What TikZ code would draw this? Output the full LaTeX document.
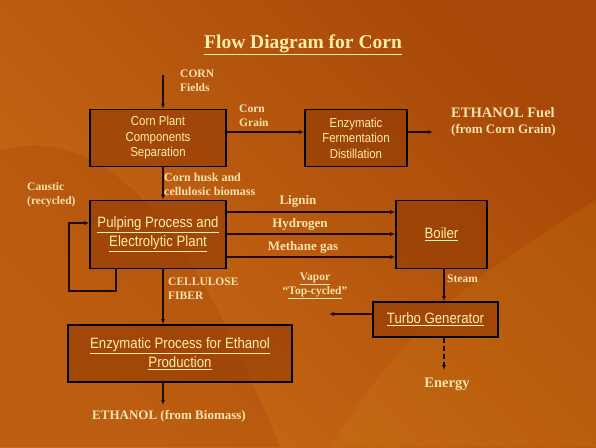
\documentclass[tikz,border=0pt]{standalone}
\usepackage{fontspec}
\setmainfont{Liberation Serif}
\newfontfamily\boxfont[FakeStretch=0.88]{Liberation Sans}
\usetikzlibrary{arrows.meta}
\definecolor{bgA}{RGB}{200,106,22}
\definecolor{bgB}{RGB}{168,72,8}
\definecolor{boxfill}{RGB}{145,58,4}
\definecolor{pale}{RGB}{255,238,170}
\definecolor{lbl}{RGB}{245,228,175}
\definecolor{wire}{RGB}{30,12,0}
\tikzset{
  procbox/.style={draw=black, line width=1.6pt, fill=boxfill, fill opacity=0.6, text opacity=1,
    text=pale, font=\boxfont\fontsize{13}{15.5}\selectfont, align=center, inner sep=0pt},
  bigbox/.style={procbox, font=\boxfont\fontsize{15}{18}\selectfont},
  lab/.style={text=lbl, font=\bfseries\fontsize{11.5}{14}\selectfont, inner sep=0pt},
  midlab/.style={lab, font=\bfseries\fontsize{13}{15}\selectfont},
  arr/.style={draw=wire, line width=1.1pt, -{Latex[length=5pt,width=4pt]}},
}
\begin{document}
\begin{tikzpicture}[x=1pt,y=-1pt]
\shade[left color=bgA, right color=bgB, shading angle=135] (0,0) rectangle (596,447);
\useasboundingbox (0,0) rectangle (596,447);
% faint leaf shapes
\fill[bgB, opacity=0.35] (0,150) .. controls (120,120) and (200,250) .. (280,447) -- (0,447) -- cycle;
\fill[bgA!80!yellow, opacity=0.18] (330,447) .. controls (420,300) and (520,250) .. (596,200) -- (596,447) -- cycle;

% title
\node[text=pale, font=\bfseries\fontsize{19.5}{22}\selectfont, inner sep=0pt] (title) at (303,45) {\underline{Flow Diagram for Corn}};

% boxes
\node[procbox, minimum width=136pt, minimum height=57pt] (b1) at (158,138) {Corn Plant\\Components\\Separation};
\node[procbox, minimum width=102pt, minimum height=57pt] (b2) at (356,138) {Enzymatic\\Fermentation\\Distillation};
\node[bigbox, minimum width=136pt, minimum height=68pt] (b3) at (158,234.5) {\underline{Pulping Process and}\\[1pt]\underline{Electrolytic Plant}};
\node[bigbox, minimum width=91pt, minimum height=68pt] (boil) at (441.5,234.5) {\underline{Boiler}};
\node[bigbox, minimum width=125pt, minimum height=35pt] (turbo) at (435.5,319.5) {\underline{Turbo Generator}};
\node[bigbox, minimum width=224pt, minimum height=57pt] (b4) at (180,353.5) {\underline{Enzymatic Process for Ethanol}\\[1pt]\underline{Production}};

% reference coordinates
\coordinate (cx) at (163,0);
\coordinate (sx) at (444,0);
\coordinate (start) at (163,75);
\coordinate (fuelend) at (433,132);
\coordinate (gy) at (0,132);
\coordinate (lx) at (116,0);
\coordinate (l1) at (116,291);
\coordinate (l2) at (69,291);
\coordinate (l3) at (69,223);
\coordinate (y1) at (0,212);
\coordinate (y2) at (0,234);
\coordinate (y3) at (0,257);
\coordinate (vy) at (0,314);
\coordinate (vend) at (329,314);
\coordinate (eend) at (444,370);
\coordinate (bend) at (163,405);

% labels
\node[lab, anchor=west, align=left] (corn) at (180,81) {CORN\\Fields};
\node[lab, anchor=west, align=left] (grain) at (239,115.5) {Corn\\Grain};
\node[text=lbl, font=\bfseries\fontsize{14.5}{17}\selectfont, inner sep=0pt, anchor=west] (fuel) at (451,113) {ETHANOL Fuel};
\node[text=lbl, font=\bfseries\fontsize{13}{15}\selectfont, inner sep=0pt, anchor=west] (fuel2) at (451,130) {(from Corn Grain)};
\node[lab, anchor=west, align=left, font=\bfseries\fontsize{12}{14}\selectfont] (husk) at (164,184) {Corn husk and\\cellulosic biomass};
\node[lab, anchor=west, align=left] (caustic) at (27,195) {Caustic\\(recycled)};
\node[midlab] (lig) at (298,201) {Lignin};
\node[midlab] (hyd) at (300,224) {Hydrogen};
\node[midlab] (meth) at (303,247) {Methane gas};
\node[lab] (vap) at (315,279) {\underline{Vapor}};
\node[lab] (topc) at (315,293) {``\underline{Top-cycled}''};
\node[lab, anchor=west] (steam) at (447,279) {Steam};
\node[lab, anchor=west, align=left] (cell) at (168,289) {CELLULOSE\\FIBER};
\node[text=lbl, font=\bfseries\fontsize{14.5}{17}\selectfont, inner sep=0pt] (energy) at (447,384) {Energy};
\node[text=lbl, font=\bfseries\fontsize{13}{15}\selectfont, inner sep=0pt, anchor=west] (ethb) at (92,416) {ETHANOL (from Biomass)};

% connectors
\draw[arr] (start) -- (b1.north -| cx);
\draw[arr] (b1.east |- gy) -- (b2.west |- gy);
\draw[arr] (b2.east |- gy) -- (fuelend);
\draw[arr] (b1.south -| cx) -- (b3.north -| cx);
\draw[arr] (b3.south -| lx) -- (l1) -- (l2) -- (l3) -- (b3.west |- l3);
\draw[arr] (b3.east |- y1) -- (boil.west |- y1);
\draw[arr] (b3.east |- y2) -- (boil.west |- y2);
\draw[arr] (b3.east |- y3) -- (boil.west |- y3);
\draw[arr] (boil.south -| sx) -- (turbo.north -| sx);
\draw[arr] (turbo.west |- vy) -- (vend);
\draw[arr, dashed, dash pattern=on 5pt off 3pt] (turbo.south -| sx) -- (eend);
\draw[arr] (b3.south -| cx) -- (b4.north -| cx);
\draw[arr] (b4.south -| cx) -- (bend);
\end{tikzpicture}
\end{document}
